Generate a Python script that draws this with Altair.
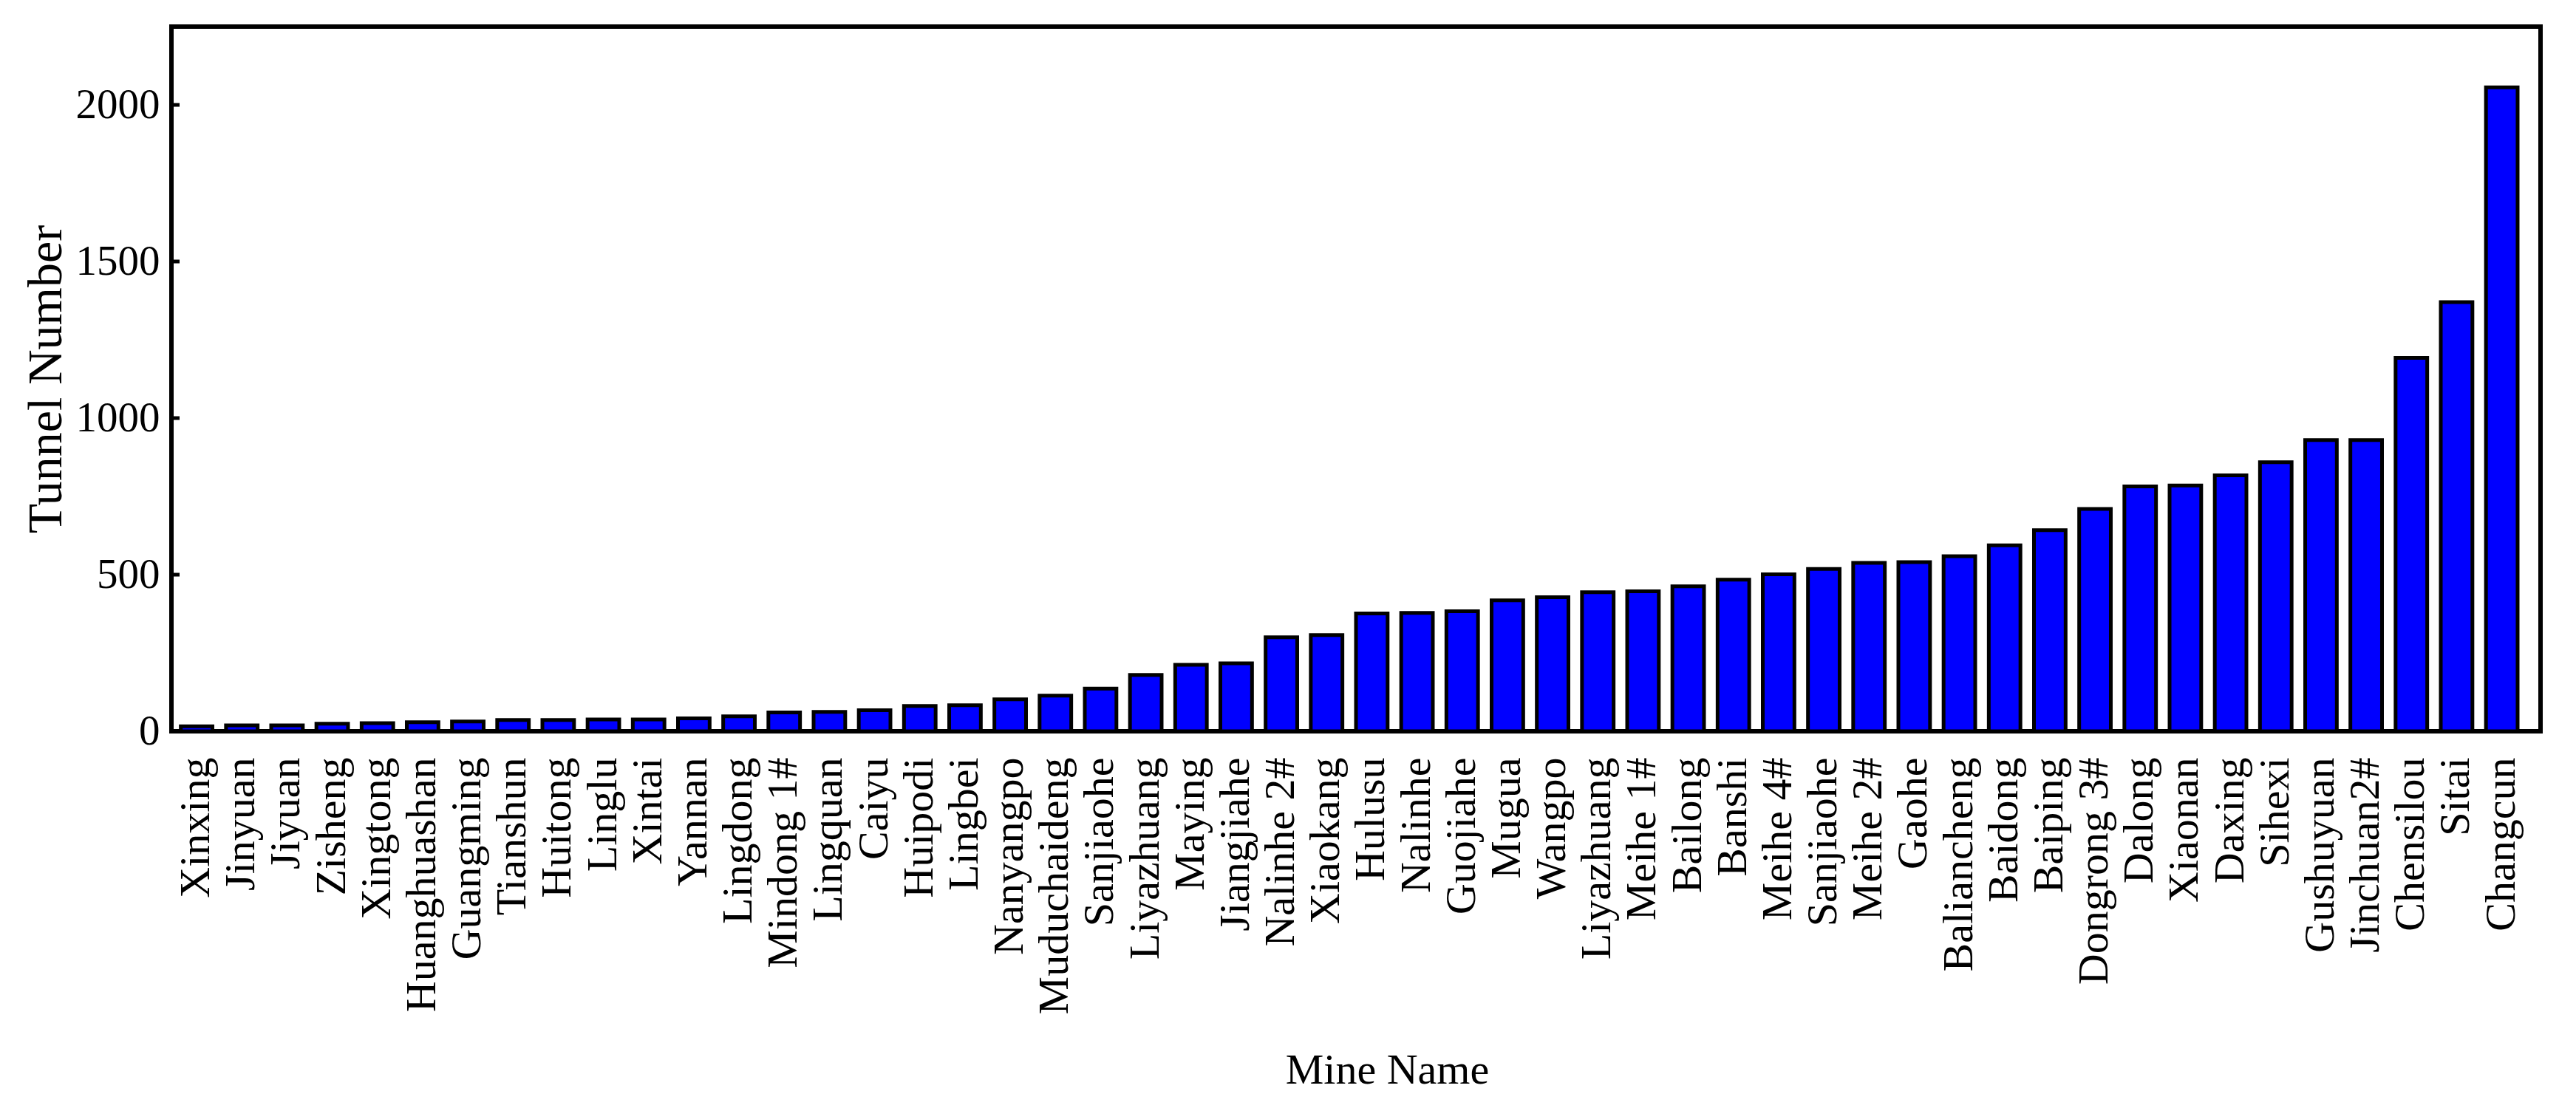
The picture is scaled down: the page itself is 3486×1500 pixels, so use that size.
import json
import altair as alt
import pandas as pd

names = ["Xinxing", "Jinyuan", "Jiyuan", "Zisheng", "Xingtong", "Huanghuashan",
         "Guangming", "Tianshun", "Huitong", "Linglu", "Xintai", "Yannan",
         "Lingdong", "Mindong 1#", "Lingquan", "Caiyu", "Huipodi", "Lingbei",
         "Nanyangpo", "Muduchaideng", "Sanjiaohe", "Liyazhuang", "Maying",
         "Jiangjiahe", "Nalinhe 2#", "Xiaokang", "Hulusu", "Nalinhe", "Guojiahe",
         "Mugua", "Wangpo", "Liyazhuang", "Meihe 1#", "Bailong", "Banshi",
         "Meihe 4#", "Sanjiaohe", "Meihe 2#", "Gaohe", "Baliancheng", "Baidong",
         "Baiping", "Dongrong 3#", "Dalong", "Xiaonan", "Daxing", "Sihexi",
         "Gushuyuan", "Jinchuan2#", "Chensilou", "Sitai", "Changcun"]
values = [16, 19, 19, 24, 26, 29, 31, 36, 36, 38, 38, 41, 48, 60, 62, 67, 81, 83,
          102, 114, 136, 180, 212, 217, 300, 307, 376, 378, 383, 418, 428, 444,
          447, 463, 484, 501, 518, 538, 540, 559, 594, 642, 710, 782, 785, 817,
          859, 930, 930, 1192, 1370, 2056]
y_ticks = [0, 500, 1000, 1500, 2000]

df = pd.DataFrame({"idx": list(range(len(names))), "name": names, "value": values})
tick_df = pd.DataFrame({"v": y_ticks})

FONT = "Liberation Serif"
label_expr = "[" + ",".join(json.dumps(n) for n in names) + "][datum.value]"

yscale = alt.Scale(domain=[0, 2250], nice=False, zero=True)

bars = alt.Chart(df).mark_bar(
    color="#0000FF", stroke="black", strokeWidth=5
).encode(
    x=alt.X("idx:O", title="Mine Name",
            scale=alt.Scale(paddingInner=0.3, paddingOuter=0.357, align=0.29),
            axis=alt.Axis(labelExpr=label_expr, labelAngle=270, labelAlign="right",
                          labelBaseline="middle", labelFont=FONT, labelFontSize=58,
                          labelColor="black", labelPadding=35, labelOverlap=False,
                          labelLimit=0, ticks=False, tickSize=0, domain=False,
                          titleFont=FONT, titleFontSize=58, titleFontWeight="normal",
                          titleColor="black", titleBaseline="top", titleAlign="center",
                          titleX=1645, titleY=430)),
    y=alt.Y("value:Q", title="Tunnel Number", scale=yscale,
            axis=alt.Axis(values=y_ticks, format="d", labelFont=FONT, labelFontSize=57,
                          labelColor="black", labelPadding=16, ticks=False, tickSize=0,
                          domain=False, grid=False, titleFont=FONT, titleFontSize=66,
                          titleFontWeight="normal", titleColor="black",
                          titleBaseline="alphabetic", titleX=-150))
)

ticks = alt.Chart(tick_df).mark_rule(color="black", strokeWidth=5).encode(
    y=alt.Y("v:Q", scale=yscale),
    x=alt.value(0),
    x2=alt.value(11),
)

chart = alt.layer(bars, ticks).properties(
    width=3206, height=954,
    background="white",
    autosize=alt.AutoSizeParams(type="none"),
    padding={"left": 224, "top": 28, "right": 40, "bottom": 500},
).configure_view(
    stroke="black", strokeWidth=6
)

chart.save("out.html", embed_options={"renderer": "svg", "actions": False})
